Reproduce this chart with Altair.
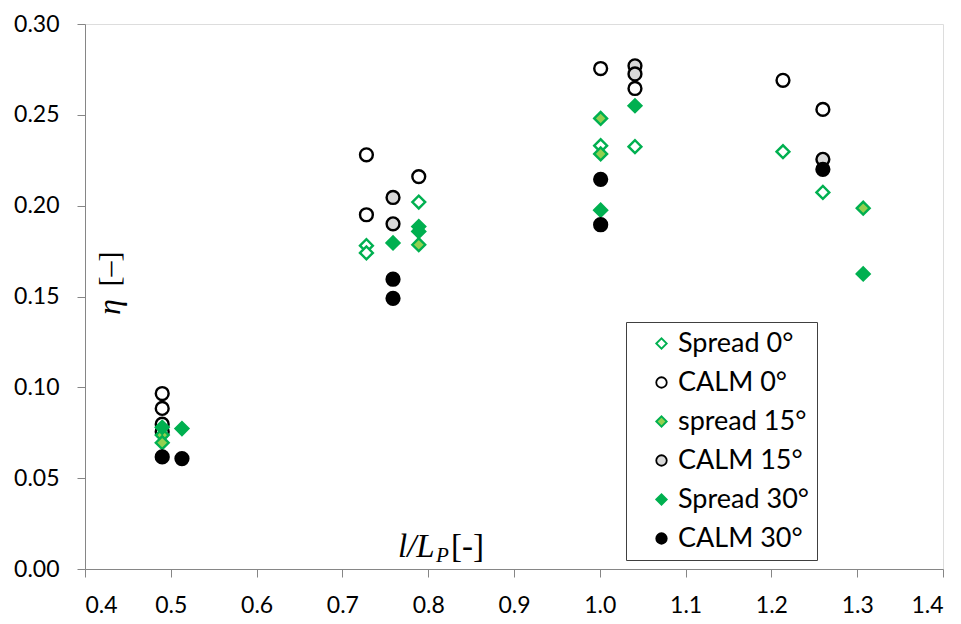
import altair as alt
import pandas as pd

# ---- data ----
series_names = ["Spread 0°", "CALM 0°", "spread 15°", "CALM 15°", "Spread 30°", "CALM 30°"]

spread0_x = [0.728, 0.728, 0.789, 1.001, 1.041, 1.2135, 1.260]
spread0_y = [0.178, 0.174, 0.202, 0.233, 0.2325, 0.2297, 0.2073]

calm0_x = [0.49, 0.49, 0.49, 0.49, 0.728, 0.728, 0.789, 1.001, 1.041, 1.2135, 1.260]
calm0_y = [0.0966, 0.0884, 0.0797, 0.0755, 0.228, 0.195, 0.216, 0.2755, 0.2645, 0.269, 0.253]

spread15_x = [0.49, 0.49, 0.789, 1.001, 1.001, 1.307]
spread15_y = [0.0737, 0.0695, 0.1785, 0.248, 0.2285, 0.1986]

calm15_x = [0.759, 0.759, 1.041, 1.041, 1.260]
calm15_y = [0.2045, 0.190, 0.277, 0.2725, 0.2255]

spread30_x = [0.49, 0.513, 0.759, 0.789, 0.789, 1.001, 1.041, 1.307]
spread30_y = [0.078, 0.0773, 0.1795, 0.1885, 0.1858, 0.1975, 0.255, 0.1624]

calm30_x = [0.49, 0.513, 0.759, 0.759, 1.001, 1.001, 1.260]
calm30_y = [0.0617, 0.0608, 0.1595, 0.149, 0.2145, 0.1895, 0.220]

x_ticks = [0.4, 0.5, 0.6, 0.7, 0.8, 0.9, 1.0, 1.1, 1.2, 1.3, 1.4]
y_ticks = [0.00, 0.05, 0.10, 0.15, 0.20, 0.25, 0.30]

# ---- styling ----
GREEN = "#00B050"
LIGHT_GREEN = "#92D050"
shapes = ["diamond", "circle", "diamond", "circle", "diamond", "circle"]
fills = ["white", "white", LIGHT_GREEN, "#D9D9D9", GREEN, "black"]
strokes = [GREEN, "black", GREEN, "black", GREEN, "black"]

rows = []
all_x = [spread0_x, calm0_x, spread15_x, calm15_x, spread30_x, calm30_x]
all_y = [spread0_y, calm0_y, spread15_y, calm15_y, spread30_y, calm30_y]
for i, (name, xs, ys) in enumerate(zip(series_names, all_x, all_y)):
    for xv, yv in zip(xs, ys):
        rows.append({"series": name, "x": xv, "y": yv, "ord": i})
df = pd.DataFrame(rows)

FONT = "Lato"
legend = alt.Legend(
    orient="none", legendX=541, legendY=298, title=None,
    strokeColor="#404040", fillColor="white", padding=8, rowPadding=11,
    labelFontSize=27, labelFont=FONT, labelColor="black",
    labelExpr="datum.label + '\u00a0\u00a0'",
    symbolSize=110, symbolStrokeWidth=1.8, symbolOffset=14, labelOffset=3,
)

points = alt.Chart(df).mark_point(size=165, strokeWidth=2.4, opacity=1, filled=False).encode(
    x=alt.X("x:Q", scale=alt.Scale(domain=[0.4, 1.4], nice=False, zero=False),
            axis=alt.Axis(values=x_ticks, format=".1f", title=None, grid=False,
                          domainColor="#868686", tickColor="#868686", tickSize=8,
                          labelFont=FONT, labelFontSize=23, labelColor="black", labelPadding=17)),
    y=alt.Y("y:Q", scale=alt.Scale(domain=[0, 0.30], nice=False, zero=True),
            axis=alt.Axis(values=y_ticks, format=".2f", title=None, grid=False,
                          domainColor="#868686", tickColor="#868686", tickSize=8,
                          labelFont=FONT, labelFontSize=23, labelColor="black", labelPadding=18)),
    shape=alt.Shape("series:N", scale=alt.Scale(domain=series_names, range=shapes), legend=legend),
    fill=alt.Fill("series:N", scale=alt.Scale(domain=series_names, range=fills), legend=legend),
    stroke=alt.Stroke("series:N", scale=alt.Scale(domain=series_names, range=strokes), legend=legend),
    order=alt.Order("ord:Q"),
)

SERIF = "Liberation Serif"
eta = alt.Chart().mark_text(text="η", font=SERIF, fontSize=32, fontStyle="italic", angle=270,
                            align="center", baseline="middle", color="black").encode(
    x=alt.value(25), y=alt.value(283))
eta_br = alt.Chart().mark_text(text="[–]", font=SERIF, fontSize=30, angle=270,
                               align="center", baseline="middle", color="black").encode(
    x=alt.value(25), y=alt.value(245))

xt1 = alt.Chart().mark_text(text="l/L", font=SERIF, fontSize=33, fontStyle="italic",
                            align="left", baseline="alphabetic", color="black").encode(
    x=alt.value(313), y=alt.value(533))
xt2 = alt.Chart().mark_text(text="P", font=SERIF, fontSize=21, fontStyle="italic",
                            align="left", baseline="alphabetic", color="black").encode(
    x=alt.value(351), y=alt.value(538))
xt3 = alt.Chart().mark_text(text="[-]", font=SERIF, fontSize=33,
                            align="left", baseline="alphabetic", color="black").encode(
    x=alt.value(366), y=alt.value(533))

chart = alt.layer(points, eta, eta_br, xt1, xt2, xt3).properties(
    width=858, height=545,
    autosize=alt.AutoSizeParams(type="none"),
    padding={"left": 77, "top": 16, "right": 10, "bottom": 47},
).configure_view(stroke=None).configure(background="white")

chart.save("out.html", embed_options={"renderer": "svg", "actions": False})
